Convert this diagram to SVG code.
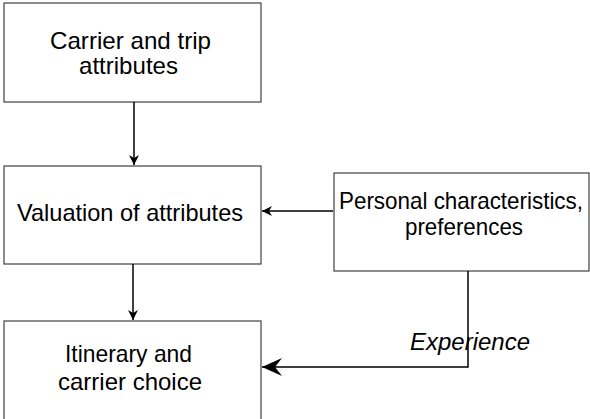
<svg xmlns="http://www.w3.org/2000/svg" width="590" height="419" viewBox="0 0 590 419">
<style>
.box{fill:#fff;stroke:#404040;stroke-width:1.2}
.t{font-family:"Liberation Sans",Arial,sans-serif;font-size:24px;fill:#000;text-anchor:middle}
.c{fill:none;stroke:#000;stroke-width:1.5}
</style>
<defs>
<marker id="a" viewBox="0 0 10 10" refX="10" refY="5" markerWidth="10" markerHeight="10" markerUnits="userSpaceOnUse" orient="auto">
<path d="M0,0 L10,5 L0,10 L3,5 Z" fill="#000"/>
</marker>
<marker id="b" viewBox="0 0 20 20" refX="20" refY="10" markerWidth="20" markerHeight="20" markerUnits="userSpaceOnUse" orient="auto">
<path d="M0,1 L20,10 L0,19 L7,10 Z" fill="#000"/>
</marker>
</defs>
<rect width="590" height="419" fill="#fff"/>
<g id="n1"><rect class="box" x="4" y="3" width="257" height="99"/>
<text class="t" x="130.5" y="49" textLength="161" lengthAdjust="spacingAndGlyphs">Carrier and trip</text>
<text class="t" x="128.5" y="74" textLength="99" lengthAdjust="spacingAndGlyphs">attributes</text></g>
<g id="n2"><rect class="box" x="4" y="166" width="257" height="98"/>
<text class="t" x="130" y="221" textLength="226" lengthAdjust="spacingAndGlyphs">Valuation of attributes</text></g>
<g id="n3"><rect class="box" x="334" y="173" width="255" height="98"/>
<text class="t" x="461" y="209" textLength="244" lengthAdjust="spacingAndGlyphs">Personal characteristics,</text>
<text class="t" x="464" y="235" textLength="118" lengthAdjust="spacingAndGlyphs">preferences</text></g>
<g id="n4"><rect class="box" x="4" y="321" width="257" height="106"/>
<text class="t" x="128.5" y="362" textLength="127" lengthAdjust="spacingAndGlyphs">Itinerary and</text>
<text class="t" x="130" y="390" textLength="144" lengthAdjust="spacingAndGlyphs">carrier choice</text></g>
<g id="connectors">
<line class="c" x1="134" y1="102" x2="134" y2="165" marker-end="url(#a)"/>
<line class="c" x1="133" y1="264" x2="133" y2="320" marker-end="url(#a)"/>
<line class="c" x1="333" y1="211" x2="262" y2="211" marker-end="url(#a)"/>
<polyline class="c" points="468,271 468,367 262,367" marker-end="url(#b)"/>
<text class="t" x="470" y="350" font-style="italic" textLength="120" lengthAdjust="spacingAndGlyphs">Experience</text>
</g>
</svg>
